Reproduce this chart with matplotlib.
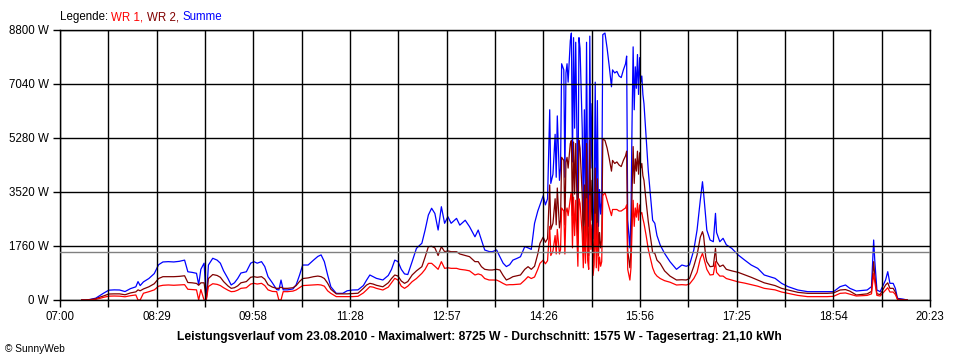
import matplotlib
matplotlib.use("Agg")
import matplotlib.pyplot as plt
import numpy as np

# time in minutes after 07:00
minutes = [20, 24, 28, 33, 37, 40, 45, 50, 55, 60, 65, 70, 72, 74, 77, 82, 87, 91, 95, 100,
           105, 110, 115, 118, 122, 126, 128, 130, 133, 135, 137, 141, 145, 148, 151, 155, 158, 161, 164, 167,
           172, 176, 179, 182, 186, 189, 192, 196, 200, 202, 204, 206, 210, 215, 218, 221, 224, 229, 234, 238,
           241, 244, 247, 250, 255, 261, 265, 270, 275, 280, 283, 286, 289, 292, 298, 303, 306, 309, 312, 315,
           318, 321, 325, 329, 334, 337, 340, 343, 346, 349, 352, 355, 358, 361, 366, 369, 374, 378, 383, 386,
           389, 392, 396, 399, 403, 406, 409, 412, 415, 418, 422, 425, 429, 432, 435, 438, 441, 443, 446, 448,
           450, 452, 453, 455, 457, 458, 459, 461, 462, 463, 465, 466, 467, 468, 469, 471, 472, 473, 474, 475,
           476, 478, 479, 480, 482, 483, 484, 485, 486, 487, 488, 489, 490, 491, 492, 493, 494, 495, 496, 497,
           498, 499, 500, 501, 503, 505, 507, 509, 510, 512, 514, 516, 518, 520, 522, 523, 524, 526, 527, 528,
           529, 530, 531, 532, 533, 534, 535, 536, 537, 538, 539, 541, 543, 545, 547, 549, 551, 554, 558, 563,
           569, 574, 578, 581, 585, 588, 590, 591, 593, 594, 596, 597, 600, 603, 605, 606, 609, 612, 615, 620,
           626, 632, 638, 644, 650, 660, 666, 672, 681, 690, 695, 708, 714, 720, 725, 729, 735, 745, 749, 751,
           752, 754, 757, 762, 764, 766, 769, 771, 773, 778, 782]

summe = [0, 0, 20, 60, 150, 217, 320, 330, 326, 275, 370, 430, 600, 470, 590, 700, 860, 1150, 1240, 1250,
         1240, 1260, 1300, 920, 900, 870, 500, 1000, 1200, 0, 1140, 1360, 1300, 1200, 950, 700, 490, 560, 700, 880,
         920, 1200, 1250, 1200, 1250, 1090, 760, 560, 340, 326, 650, 330, 330, 360, 500, 800, 1140, 1140, 1300, 1420,
         1470, 1250, 820, 430, 217, 217, 300, 326, 330, 470, 650, 815, 760, 706, 652, 800, 1000, 1300, 1250, 1000,
         850, 830, 1250, 1684, 1850, 2281, 2770, 2990, 2820, 2280, 3040, 2500, 2715, 2500, 2660, 2440, 2600, 2390, 2060, 2280,
         1950, 1630, 1580, 1575, 1630, 1410, 1200, 1090, 1150, 1300, 1360, 1410, 1740, 1700, 1650, 2500, 2900, 3100, 3400, 3100,
         3300, 6200, 3800, 4100, 5400, 4000, 6000, 3900, 4300, 7700, 7500, 4000, 7400, 7700, 7100, 8450, 8700, 4500, 8550, 5600,
         8400, 3000, 8550, 8200, 5600, 2800, 6200, 3100, 8400, 3500, 2400, 8600, 4300, 6400, 2000, 3000, 7100, 2700, 6500, 2400,
         3600, 2800, 3200, 8650, 8700, 8200, 7600, 6950, 7500, 7400, 7450, 7300, 7250, 7500, 7700, 7950, 2600, 1700, 2700, 5800,
         8250, 6200, 7600, 6900, 8000, 6700, 7900, 7100, 7300, 6700, 6400, 5300, 4200, 3400, 2600, 2500, 2100, 1790, 1520, 1250,
         1000, 1140, 1100, 1140, 1630, 2280, 2930, 3260, 3855, 3500, 2700, 2280, 1955, 1900, 2824, 2200, 1900, 2010, 1800, 1684,
         1466, 1300, 1140, 1032, 815, 706, 543, 435, 326, 272, 272, 272, 272, 435, 489, 380, 293, 326, 435, 1955,
         1300, 326, 272, 652, 923, 543, 543, 380, 54, 30, 0]

wr1 = [0, 0, 5, 20, 55, 85, 125, 130, 125, 105, 140, 165, 0, 0, 220, 270, 330, 450, 480, 490,
       480, 490, 500, 350, 340, 330, 0, 340, 0, 0, 440, 530, 510, 470, 400, 320, 272, 280, 320, 380,
       400, 520, 543, 520, 543, 470, 330, 280, 272, 0, 0, 272, 272, 290, 330, 400, 470, 480, 489, 500,
       489, 450, 300, 217, 110, 110, 110, 110, 120, 230, 330, 435, 420, 380, 326, 420, 560, 706, 650, 450,
       380, 450, 597, 700, 869, 1000, 1195, 1195, 1100, 1000, 1250, 1032, 1050, 1032, 1032, 1000, 978, 950, 815, 850,
       815, 700, 652, 652, 650, 600, 540, 489, 500, 500, 510, 520, 650, 760, 700, 750, 1000, 1195, 1300, 1180,
       1280, 2400, 1450, 1600, 2100, 1500, 2300, 1500, 1650, 3000, 2900, 1500, 2850, 3000, 2750, 3300, 3500, 1700, 3350, 2100,
       3250, 1100, 3300, 3150, 2150, 1050, 2400, 1200, 3300, 1300, 1000, 3400, 1650, 2450, 800, 1150, 2800, 1050, 2500, 950,
       1400, 1100, 1250, 3400, 3500, 3250, 3000, 2750, 2950, 2950, 2950, 2900, 2900, 2950, 3000, 3100, 1000, 650, 1050, 2300,
       3250, 2400, 3000, 2700, 3150, 2600, 3100, 2800, 2850, 2650, 2500, 2100, 1650, 1350, 1050, 870, 780, 700, 630, 580,
       489, 500, 489, 520, 700, 900, 1200, 1350, 1520, 1400, 1140, 1000, 815, 830, 1250, 900, 780, 780, 700, 650,
       590, 550, 500, 450, 380, 330, 260, 217, 150, 109, 109, 109, 120, 217, 230, 190, 130, 150, 200, 869,
       600, 150, 130, 326, 400, 260, 260, 180, 20, 0, 0]

wr2 = [0, 0, 15, 40, 95, 130, 195, 200, 200, 170, 230, 265, 330, 300, 360, 430, 530, 700, 760, 760,
       760, 770, 790, 570, 560, 540, 480, 560, 560, 0, 700, 830, 800, 740, 600, 460, 380, 400, 460, 560,
       600, 740, 760, 740, 760, 680, 500, 420, 380, 380, 420, 380, 380, 400, 470, 600, 700, 720, 760, 780,
       760, 700, 550, 350, 200, 200, 200, 210, 220, 380, 489, 543, 520, 480, 430, 560, 700, 815, 780, 620,
       543, 600, 815, 950, 1086, 1400, 1738, 1750, 1700, 1450, 1738, 1575, 1600, 1575, 1575, 1500, 1450, 1412, 1250, 1250,
       1086, 1000, 978, 978, 1000, 978, 800, 652, 700, 760, 790, 815, 1000, 1086, 1000, 1100, 1500, 1847, 2050, 1880,
       2000, 3750, 2300, 2500, 3300, 2450, 3650, 2350, 2600, 4650, 4550, 2450, 4500, 4650, 4300, 5100, 5200, 2750, 5150, 3450,
       5100, 1850, 5200, 4950, 3400, 1700, 3750, 1900, 5100, 2150, 1450, 5200, 2600, 3900, 1200, 1850, 4300, 1650, 3950, 1450,
       2200, 1700, 1950, 5250, 5200, 4950, 4600, 4200, 4550, 4450, 4500, 4400, 4350, 4550, 4700, 4850, 1600, 1050, 1650, 3500,
       5000, 3800, 4600, 4200, 4850, 4100, 4800, 4300, 4450, 4050, 3900, 3200, 2550, 2050, 1550, 1520, 1300, 1190, 950, 780,
       652, 660, 652, 700, 1100, 1466, 1850, 2050, 2227, 2100, 1408, 1250, 1086, 1100, 1684, 1250, 1090, 1140, 1000, 950,
       900, 820, 740, 650, 560, 470, 380, 326, 250, 217, 217, 217, 230, 326, 340, 290, 163, 200, 280, 1250,
       800, 200, 180, 489, 560, 380, 380, 260, 30, 10, 0]

x_labels = ["07:00", "08:29", "09:58", "11:28", "12:57", "14:26", "15:56", "17:25", "18:54", "20:23"]
y_ticks = [0, 1760, 3520, 5280, 7040, 8800]
average = 1575
span_minutes = 803  # 07:00 .. 20:23

title = ("Leistungsverlauf vom 23.08.2010 - Maximalwert: 8725 W - "
         "Durchschnitt: 1575 W - Tagesertrag: 21,10 kWh")

RED = "#ff0000"
DARK = "#800000"
BLUE = "#0000ff"

plt.rcParams['font.family'] = ['Liberation Sans', 'DejaVu Sans']

fig = plt.figure(figsize=(9.6, 3.6), dpi=100)
ax = fig.add_axes([60 / 960, 60 / 360, 870 / 960, 270 / 360])

ax.plot(minutes, summe, color=BLUE, lw=0.9, zorder=2)
ax.plot(minutes, wr2, color=DARK, lw=0.9, zorder=2.1)
ax.plot(minutes, wr1, color=RED, lw=0.9, zorder=2.2)
ax.axhline(average, color="#808080", lw=1.0, zorder=3)

ax.set_xlim(0, span_minutes)
ax.set_ylim(0, 8800)

major = np.linspace(0, span_minutes, len(x_labels))
minor = np.linspace(0, span_minutes, 2 * len(x_labels) - 1)
ax.set_xticks(major)
ax.set_xticklabels(x_labels, fontsize=8.3)
ax.set_xticks(minor, minor=True)
ax.set_yticks(y_ticks)
ax.set_yticklabels([f"{v} W" for v in y_ticks], fontsize=8.3)

ax.tick_params(axis='both', which='both', direction='out', length=5, width=1.0,
               color='black', pad=3)
ax.tick_params(axis='x', which='minor', length=5)
ax.grid(True, which='both', axis='x', color='black', lw=1.0)
ax.grid(True, which='major', axis='y', color='black', lw=1.0)
ax.set_axisbelow(False)
for s in ax.spines.values():
    s.set_linewidth(1.0)
    s.set_color('black')

# Legend line (multi-colour text)
parts = [("Legende: ", "black"), ("WR 1, ", RED), ("WR 2, ", DARK), ("Summe", BLUE)]
t = fig.text(60 / 960, 1 - 17 / 360, parts[0][0], color=parts[0][1], fontsize=8.3,
             va='center', ha='left')
for txt, col in parts[1:]:
    t = ax.annotate(txt, xycoords=t, xy=(1, 0.5), va='center', ha='left',
                    color=col, fontsize=8.3, annotation_clip=False)

fig.text(479 / 960, 1 - 337 / 360, title, ha='center', va='center',
         fontsize=8.7, fontweight='bold')
fig.text(5 / 960, 1 - 349 / 360, "\u00a9 SunnyWeb", ha='left', va='center', fontsize=7.3)

fig.savefig("out.png", dpi=100)
